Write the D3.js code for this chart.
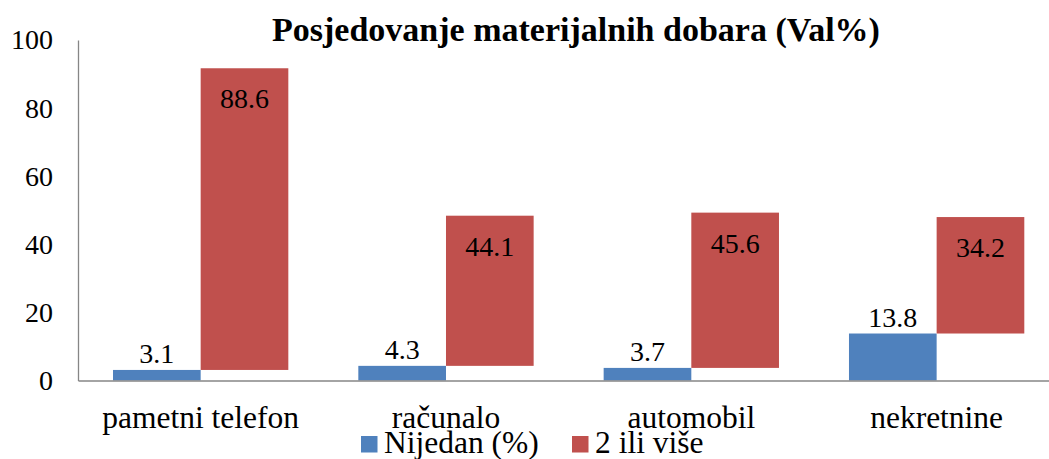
<!DOCTYPE html>
<html>
<head>
<meta charset="utf-8">
<script src="https://cdn.jsdelivr.net/npm/d3@7"></script>
</head>
<body style="margin:0;background:#fff">
<svg id="chart" width="1049" height="459" style="display:block"></svg>
<script>
// Ownership of material goods, share of respondents (%)
const categories = ["pametni telefon", "računalo", "automobil", "nekretnine"];
const seriesNames = ["Nijedan (%)", "2 ili više"];
const nijedan = [3.1, 4.3, 3.7, 13.8];
const dvaIliVise = [88.6, 44.1, 45.6, 34.2];
const yTicks = [0, 20, 40, 60, 80, 100];
const titleText = "Posjedovanje materijalnih dobara (Val%)";

const colors = { nijedan: "#4F81BD", vise: "#C0504D" };
const axisColor = "#868686";
const serif = "'Liberation Serif', 'Times New Roman', Tinos, Times, serif";

const svg = d3.select("#chart");

const plot = { left: 78, right: 1059.3, top: 40, bottom: 380.5 };

const x = d3.scaleBand()
  .domain(categories)
  .range([plot.left, plot.right])
  .paddingInner(0)
  .paddingOuter(0);

const groupPad = 35;
const xs = d3.scaleBand()
  .domain(["nijedan", "vise"])
  .range([groupPad, x.bandwidth() - groupPad])
  .padding(0);

const y = d3.scaleLinear().domain([0, 100]).range([plot.bottom, plot.top]);

// y axis
const yAxis = svg.append("g")
  .attr("transform", `translate(${plot.left},0)`)
  .call(d3.axisLeft(y).tickValues(yTicks).tickSize(0).tickSizeOuter(0).tickPadding(25));
yAxis.select(".domain").attr("stroke", axisColor).attr("stroke-width", 1.3);
yAxis.selectAll("text")
  .style("font-family", serif)
  .style("font-size", "28px")
  .attr("fill", "#000");

const rows = categories.map((c, i) => ({ cat: c, a: nijedan[i], b: dvaIliVise[i] }));

// "Nijedan" bars, from zero
svg.append("g").selectAll("rect")
  .data(rows).join("rect")
  .attr("x", d => x(d.cat) + xs("nijedan"))
  .attr("width", xs.bandwidth())
  .attr("y", d => y(d.a))
  .attr("height", d => y(0) - y(d.a))
  .attr("fill", colors.nijedan);

// "2 ili više" bars, floating above the "Nijedan" value
svg.append("g").selectAll("rect")
  .data(rows).join("rect")
  .attr("x", d => x(d.cat) + xs("vise"))
  .attr("width", xs.bandwidth())
  .attr("y", d => y(d.a + d.b))
  .attr("height", d => y(d.a) - y(d.a + d.b))
  .attr("fill", colors.vise);

// x axis
const xAxis = svg.append("g")
  .attr("transform", `translate(0,${plot.bottom})`)
  .call(d3.axisBottom(x).tickSize(0).tickSizeOuter(0).tickPadding(25));
xAxis.select(".domain").attr("stroke", axisColor).attr("stroke-width", 1.6);
xAxis.selectAll("text")
  .style("font-family", serif)
  .style("font-size", "31.5px")
  .attr("fill", "#000");

// value labels
svg.append("g").selectAll("text")
  .data(rows).join("text")
  .attr("x", d => x(d.cat) + xs("nijedan") + xs.bandwidth() / 2)
  .attr("y", d => y(d.a) - 7)
  .attr("text-anchor", "middle")
  .style("font-family", serif)
  .style("font-size", "28px")
  .attr("fill", "#000")
  .text(d => d.a.toFixed(1));

svg.append("g").selectAll("text")
  .data(rows).join("text")
  .attr("x", d => x(d.cat) + xs("vise") + xs.bandwidth() / 2)
  .attr("y", d => y(d.a + d.b) + 40)
  .attr("text-anchor", "middle")
  .style("font-family", serif)
  .style("font-size", "28px")
  .attr("fill", "#000")
  .text(d => d.b.toFixed(1));

// title
svg.append("text")
  .attr("x", 576)
  .attr("y", 41)
  .attr("text-anchor", "middle")
  .style("font-family", serif)
  .style("font-size", "34px")
  .style("font-weight", "bold")
  .attr("fill", "#000")
  .text(titleText);

// legend
const legendItems = [
  { name: seriesNames[0], color: colors.nijedan, x: 361 },
  { name: seriesNames[1], color: colors.vise, x: 572 }
];
const lg = svg.append("g").selectAll("g").data(legendItems).join("g")
  .attr("transform", d => `translate(${d.x},436)`);
lg.append("rect").attr("width", 16.5).attr("height", 16.5).attr("fill", d => d.color);
lg.append("text")
  .attr("x", 23)
  .attr("y", 17)
  .style("font-family", serif)
  .style("font-size", "31.5px")
  .attr("fill", "#000")
  .text(d => d.name);
</script>
</body>
</html>
